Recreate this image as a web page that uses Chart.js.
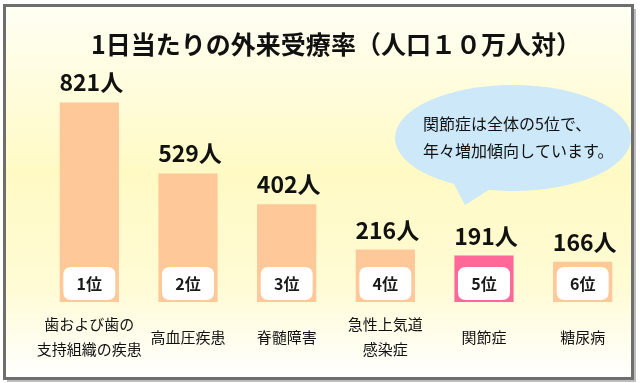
<!DOCTYPE html>
<html>
<head>
<meta charset="utf-8">
<script src="https://cdn.jsdelivr.net/npm/chart.js@4/dist/chart.umd.min.js"></script>
<style>
  html, body { margin: 0; padding: 0; background: #ffffff; }
  #wrap { width: 640px; height: 383px; position: relative; }
</style>
</head>
<body>
<div id="wrap"><canvas id="c" width="640" height="383"></canvas></div>
<script>
// ---- data ----
const titleText = "1日当たりの外来受療率（人口１０万人対）";
const categories = [
  ["歯および歯の", "支持組織の疾患"],
  ["高血圧疾患"],
  ["脊髄障害"],
  ["急性上気道", "感染症"],
  ["関節症"],
  ["糖尿病"]
];
const values = [821, 529, 402, 216, 191, 166];
const valueLabels = ["821人", "529人", "402人", "216人", "191人", "166人"];
const rankLabels = ["1位", "2位", "3位", "4位", "5位", "6位"];
const highlightIndex = 4;
const bubbleLines = ["関節症は全体の5位で、", "年々増加傾向しています。"];

const FONT = "'Noto Sans CJK JP', 'Noto Sans', sans-serif";
const PEACH = "#ffc898";
const PINK = "#ff6898";

const barColors = values.map((v, i) => i === highlightIndex ? PINK : PEACH);

function roundRect(ctx, x, y, w, h, r) {
  ctx.beginPath();
  ctx.moveTo(x + r, y);
  ctx.lineTo(x + w - r, y);
  ctx.quadraticCurveTo(x + w, y, x + w, y + r);
  ctx.lineTo(x + w, y + h - r);
  ctx.quadraticCurveTo(x + w, y + h, x + w - r, y + h);
  ctx.lineTo(x + r, y + h);
  ctx.quadraticCurveTo(x, y + h, x, y + h - r);
  ctx.lineTo(x, y + r);
  ctx.quadraticCurveTo(x, y, x + r, y);
  ctx.closePath();
}

const framePlugin = {
  id: 'frame',
  beforeDraw(chart) {
    const ctx = chart.ctx;
    ctx.save();
    ctx.fillStyle = '#ffffff';
    ctx.fillRect(0, 0, chart.width, chart.height);
    // background gradient inside frame
    const g = ctx.createLinearGradient(0, 6, 0, 378);
    g.addColorStop(0, '#fffff4');
    g.addColorStop(0.45, '#fffac4');
    g.addColorStop(0.75, '#fffbd4');
    g.addColorStop(1, '#ffffff');
    ctx.fillStyle = g;
    ctx.fillRect(5, 7, 627, 370);
    // shadow
    ctx.strokeStyle = '#bdbdbd';
    ctx.lineWidth = 2;
    ctx.beginPath();
    ctx.moveTo(635, 9);
    ctx.lineTo(635, 381);
    ctx.lineTo(7, 381);
    ctx.stroke();
    // border
    ctx.strokeStyle = '#6e6e6e';
    ctx.lineWidth = 3;
    ctx.strokeRect(4.5, 5.5, 628, 373);
    ctx.restore();
  },
  afterDatasetsDraw(chart) {
    const ctx = chart.ctx;
    const meta = chart.getDatasetMeta(0);
    const xs = chart.scales.x;
    ctx.save();
    // bubble
    ctx.fillStyle = '#cce8f9';
    ctx.beginPath();
    ctx.ellipse(513, 138, 118, 53, 0, 0, Math.PI * 2);
    ctx.fill();
    ctx.beginPath();
    ctx.moveTo(452, 180);
    ctx.lineTo(465, 205);
    ctx.lineTo(495, 186);
    ctx.closePath();
    ctx.fill();
    ctx.fillStyle = '#111111';
    ctx.font = "16px " + FONT;
    ctx.textAlign = 'left';
    ctx.textBaseline = 'middle';
    ctx.fillText(bubbleLines[0], 423, 124);
    ctx.fillText(bubbleLines[1], 423, 151);

    meta.data.forEach((bar, i) => {
      const p = bar.getProps(['x', 'y', 'base', 'width'], true);
      // rank box
      const bw = 52, bh = 33;
      ctx.fillStyle = '#ffffff';
      roundRect(ctx, p.x - bw / 2, p.base - 2 - bh, bw, bh, 8);
      ctx.fill();
      ctx.fillStyle = '#1a1a1a';
      ctx.font = "bold 16px " + FONT;
      ctx.textAlign = 'center';
      ctx.textBaseline = 'middle';
      ctx.fillText(rankLabels[i], p.x, p.base - 2 - bh / 2);
      // value label
      ctx.font = "bold 23px " + FONT;
      ctx.textBaseline = 'alphabetic';
      ctx.fillStyle = '#111111';
      ctx.fillText(valueLabels[i], p.x + 2, p.y - 11);
      // category label
      ctx.font = "15px " + FONT;
      ctx.textBaseline = 'middle';
      const lines = categories[i];
      const cx = xs.getPixelForValue(i);
      const mid = 337;
      const lh = 25;
      lines.forEach((ln, k) => {
        const y = mid + (k - (lines.length - 1) / 2) * lh;
        ctx.fillText(ln, cx, y);
      });
    });
    ctx.restore();
  }
};

new Chart(document.getElementById('c'), {
  type: 'bar',
  data: {
    labels: categories,
    datasets: [{
      data: values,
      backgroundColor: barColors,
      borderWidth: 0,
      barPercentage: 0.6,
      categoryPercentage: 1.0
    }]
  },
  options: {
    responsive: false,
    animation: false,
    events: [],
    layout: { padding: { left: 40, right: 8, top: 0, bottom: 81 } },
    plugins: {
      legend: { display: false },
      tooltip: { enabled: false },
      title: {
        display: true,
        text: titleText,
        color: '#111111',
        font: { family: FONT, size: 25, weight: 'bold', lineHeight: 1.2 },
        padding: { top: 29, bottom: 0 }
      }
    },
    scales: {
      x: { display: false },
      y: { display: false, min: 0, max: 1000 }
    }
  },
  plugins: [framePlugin]
});
</script>
</body>
</html>
